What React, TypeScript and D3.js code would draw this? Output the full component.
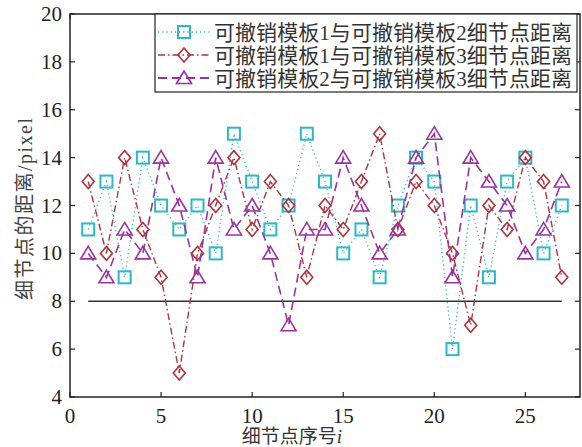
import React from "react";
import * as d3 from "d3";

const indices = d3.range(1, 28);
const seriesNames = [
  "可撤销模板1与可撤销模板2细节点距离",
  "可撤销模板1与可撤销模板3细节点距离",
  "可撤销模板2与可撤销模板3细节点距离",
];
const s12 = [11, 13, 9, 14, 12, 11, 12, 10, 15, 13, 11, 12, 15, 13, 10, 11, 9, 12, 14, 13, 6, 12, 9, 13, 14, 10, 12];
const s13 = [13, 10, 14, 11, 9, 5, 10, 12, 14, 11, 13, 12, 9, 12, 11, 13, 15, 11, 13, 12, 10, 7, 12, 11, 14, 13, 9];
const s23 = [10, 9, 11, 10, 14, 12, 9, 14, 11, 12, 10, 7, 11, 11, 14, 12, 10, 11, 14, 15, 9, 14, 13, 12, 10, 11, 13];
const threshold = 8;
const xTicks = [0, 5, 10, 15, 20, 25];
const yTicks = [4, 6, 8, 10, 12, 14, 16, 18, 20];

const W = 582, H = 447;
const L = 70, R = 580, T = 14, B = 397;
const serif = "'Liberation Serif', 'Noto Sans CJK SC', serif";

const x = d3.scaleLinear().domain([0, 28]).range([L, R]);
const y = d3.scaleLinear().domain([4, 20]).range([B, T]);

const styles = [
  { color: "#2bb8c8", dash: "1.2,3", width: 1.3, marker: "square" },
  { color: "#b0343c", dash: "7,3,1.5,3", width: 1.4, marker: "diamond" },
  { color: "#9a32a2", dash: "9,5", width: 1.6, marker: "triangle" },
];
const data = [s12, s13, s23];

function Marker({ type, cx, cy, color }: { type: string; cx: number; cy: number; color: string }) {
  if (type === "square") {
    return <rect x={cx - 6} y={cy - 6} width={12} height={12} fill="none" stroke={color} strokeWidth={2} />;
  }
  if (type === "diamond") {
    const p = `${cx},${cy - 7} ${cx + 6},${cy} ${cx},${cy + 7} ${cx - 6},${cy}`;
    return <polygon points={p} fill="none" stroke={color} strokeWidth={1.6} />;
  }
  const p = `${cx},${cy - 7} ${cx + 7.5},${cy + 5.5} ${cx - 7.5},${cy + 5.5}`;
  return <polygon points={p} fill="none" stroke={color} strokeWidth={1.6} />;
}

export default function App() {
  const line = d3
    .line<number>()
    .x((_, i) => x(indices[i]))
    .y((d) => y(d));

  const legendRows = [32, 55, 78];

  return (
    <svg width={W} height={H} style={{ position: "absolute", left: 0, top: 0, background: "#fff" }}>
      <rect x={0} y={0} width={W} height={H} fill="#fff" />
      <line x1={x(1)} x2={x(27)} y1={y(threshold)} y2={y(threshold)} stroke="#333" strokeWidth={1.5} />
      {data.map((d, k) => (
        <g key={k}>
          <path d={line(d) || ""} fill="none" stroke={styles[k].color} strokeWidth={styles[k].width} strokeDasharray={styles[k].dash} />
          {d.map((v, i) => (
            <Marker key={i} type={styles[k].marker} cx={x(indices[i])} cy={y(v)} color={styles[k].color} />
          ))}
        </g>
      ))}
      <rect x={L} y={T} width={R - L} height={B - T} fill="none" stroke="#222" strokeWidth={1.5} />
      {xTicks.map((t) => (
        <g key={"x" + t}>
          <line x1={x(t)} x2={x(t)} y1={B} y2={B - 5} stroke="#222" strokeWidth={1.2} />
          <line x1={x(t)} x2={x(t)} y1={T} y2={T + 5} stroke="#222" strokeWidth={1.2} />
          <text x={x(t)} y={423} textAnchor="middle" fontFamily={serif} fontSize={21} fill="#222">
            {t}
          </text>
        </g>
      ))}
      {yTicks.map((t) => (
        <g key={"y" + t}>
          <line x1={L} x2={L + 5} y1={y(t)} y2={y(t)} stroke="#222" strokeWidth={1.2} />
          <line x1={R} x2={R - 5} y1={y(t)} y2={y(t)} stroke="#222" strokeWidth={1.2} />
          <text x={62} y={y(t) + 7} textAnchor="end" fontFamily={serif} fontSize={21} fill="#222">
            {t}
          </text>
        </g>
      ))}
      <text x={292} y={443} textAnchor="middle" fontFamily={serif} fontSize={19} fill="#333">
        细节点序号<tspan fontStyle="italic">i</tspan>
      </text>
      <text
        transform={`translate(32,209) rotate(-90)`}
        textAnchor="middle"
        fontFamily={serif}
        fontSize={20}
        fill="#444"
        textLength={182}
        lengthAdjust="spacing"
      >
        细节点的距离/pixel
      </text>
      <rect x={155} y={T} width={422} height={78} fill="#fff" stroke="#222" strokeWidth={1.2} />
      {seriesNames.map((name, k) => (
        <g key={name}>
          <line x1={158} x2={210} y1={legendRows[k]} y2={legendRows[k]} stroke={styles[k].color} strokeWidth={styles[k].width + 0.3} strokeDasharray={styles[k].dash} />
          <Marker type={styles[k].marker} cx={184} cy={legendRows[k]} color={styles[k].color} />
          <text x={214} y={legendRows[k] + 8} fontFamily={serif} fontSize={21} fill="#333" textLength={358} lengthAdjust="spacing">
            {name}
          </text>
        </g>
      ))}
    </svg>
  );
}
